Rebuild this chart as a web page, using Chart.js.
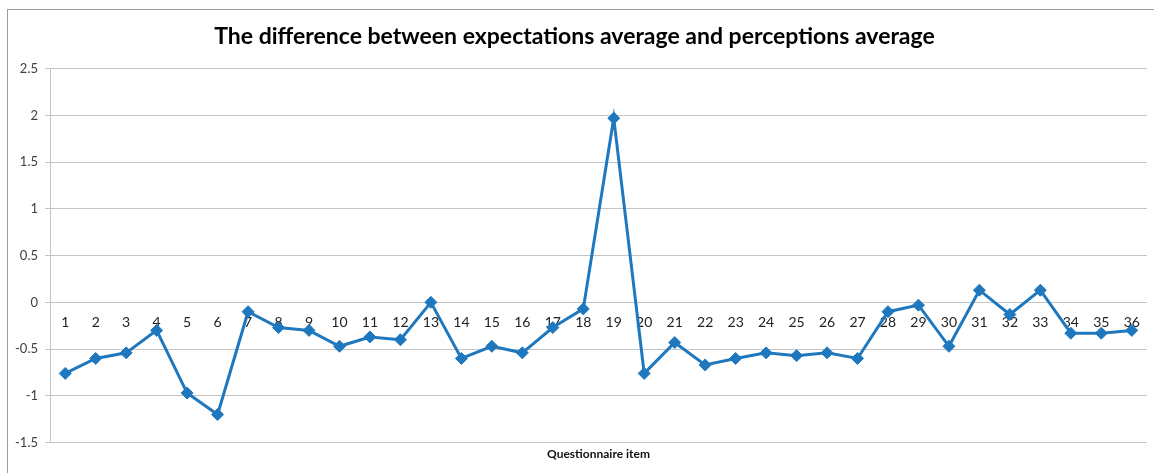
<!DOCTYPE html>
<html>
<head>
<meta charset="utf-8">
<script src="https://cdn.jsdelivr.net/npm/chart.js@4.4.0/dist/chart.umd.min.js"></script>
<style>
  html, body { margin: 0; padding: 0; background: #fff; }
  #wrap { position: relative; width: 1154px; height: 473px; }
  #frame {
    position: absolute; left: 7px; top: 9px; right: 0; bottom: 0;
    border-left: 1px solid #9c9c9c; border-top: 1px solid #9c9c9c;
    pointer-events: none;
  }
  canvas { position: absolute; left: 0; top: 0; }
</style>
</head>
<body>
<div id="wrap">
  <canvas id="gapChart" width="1154" height="473"></canvas>
  <div id="frame"></div>
</div>
<script>
// questionnaire items 1..36
const items = ['1','2','3','4','5','6','7','8','9','10','11','12','13','14','15','16','17','18',
               '19','20','21','22','23','24','25','26','27','28','29','30','31','32','33','34','35','36'];

// expectations average minus perceptions average
const gapValues = [-0.76, -0.60, -0.54, -0.30, -0.97, -1.20, -0.10, -0.27, -0.30, -0.47,
                   -0.37, -0.40, 0.00, -0.60, -0.47, -0.54, -0.27, -0.07, 1.97, -0.76,
                   -0.43, -0.67, -0.60, -0.54, -0.57, -0.54, -0.60, -0.10, -0.03, -0.47,
                   0.13, -0.13, 0.13, -0.33, -0.33, -0.30];

const yTicks = [2.5, 2, 1.5, 1, 0.5, 0, -0.5, -1, -1.5];

const chartTitle = 'The difference between expectations average and perceptions average';
const xTitle = 'Questionnaire item';

const FONT = 'Lato, "Open Sans", sans-serif';
const GRID = '#c4c4c4';
const BLUE = '#1f78be';

const ctx = document.getElementById('gapChart');

new Chart(ctx, {
    type: 'line',
    data: {
        labels: items,
        datasets: [{
            label: 'Difference',
            data: gapValues,
            xAxisID: 'x',
            borderColor: BLUE,
            backgroundColor: BLUE,
            borderWidth: 3,
            pointStyle: 'rectRot',
            pointRadius: 6,
            pointBorderWidth: 1,
            pointBackgroundColor: BLUE,
            pointBorderColor: BLUE,
            tension: 0,
            fill: false
        }]
    },
    options: {
        responsive: false,
        animation: false,
        layout: { padding: { left: 0, right: 5, top: 0, bottom: 0 } },
        plugins: {
            legend: { display: false },
            tooltip: { enabled: false },
            title: {
                display: true,
                text: chartTitle,
                color: '#000',
                font: { family: FONT, size: 23, weight: 'bold' },
                padding: { top: 23, bottom: 18 }
            }
        },
        scales: {
            x: {
                type: 'category',
                position: { y: 0 },
                offset: true,
                grid: { display: false, drawTicks: false },
                border: { display: false },
                ticks: {
                    color: '#222',
                    font: { family: FONT, size: 14 },
                    padding: 12,
                    maxRotation: 0,
                    autoSkip: false
                },
                afterFit: s => { s.height = 0; }
            },
            xTitle: {
                type: 'category',
                position: 'bottom',
                labels: items,
                offset: true,
                grid: { display: false, drawTicks: false },
                border: { display: false },
                ticks: { display: false },
                title: {
                    display: true,
                    text: xTitle,
                    color: '#111',
                    font: { family: FONT, size: 12, weight: 'bold' },
                    padding: { top: 4, bottom: 12 }
                }
            },
            y: {
                min: -1.5,
                max: 2.5,
                afterBuildTicks: s => { s.ticks = yTicks.map(v => ({ value: v })); },
                grid: { color: GRID, lineWidth: 1, tickLength: 5 },
                border: { color: GRID },
                ticks: {
                    color: '#404040',
                    font: { family: FONT, size: 13 },
                    padding: 7,
                    callback: v => String(v)
                },
                afterFit: s => { s.width = 50; }
            }
        }
    }
});
</script>
</body>
</html>
